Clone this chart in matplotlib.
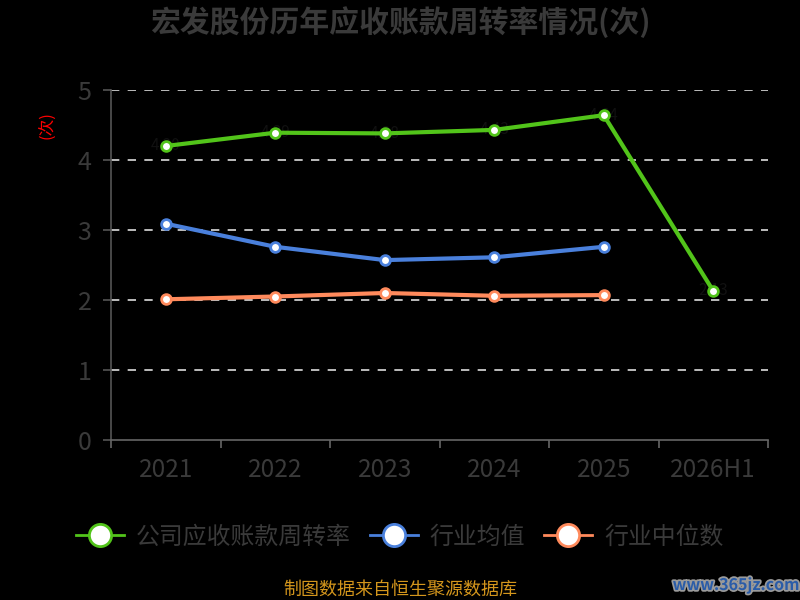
import matplotlib.pyplot as plt
import matplotlib.patheffects as pe
from matplotlib.lines import Line2D

plt.rcParams['font.family'] = ['Noto Sans CJK SC', 'DejaVu Sans']

years = ['2021', '2022', '2023', '2024', '2025', '2026H1']
company = [4.20, 4.39, 4.38, 4.43, 4.64, 2.13]
ind_mean = [3.09, 2.76, 2.57, 2.61, 2.76]
ind_median = [2.01, 2.05, 2.10, 2.06, 2.07]

green = '#52c41a'
blue = '#4a80dc'
orange = '#ff8a5c'
txt = '#3a3a3a'

fig = plt.figure(figsize=(8, 6), dpi=100, facecolor='black')
ax = fig.add_axes([111 / 800, 160 / 600, 657 / 800, 350 / 600])
ax.set_facecolor('black')

x = list(range(len(years)))
series = [(company, green, '公司应收账款周转率'),
          (ind_mean, blue, '行业均值'),
          (ind_median, orange, '行业中位数')]
for vals, col, name in series:
    ax.plot(x[:len(vals)], vals, color=col, lw=3, marker='o', ms=7,
            mfc='white', mec=col, mew=2, zorder=3)

# data labels on company line (dark text, barely visible on black)
for xi, v in zip(x, company):
    ax.text(xi, v, f'{v:.2f}', color='#111111', fontsize=11,
            ha='center', va='center', zorder=2)

ax.set_xlim(-0.5, len(years) - 0.5)
ax.set_ylim(0, 5)
ax.set_yticks([0, 1, 2, 3, 4, 5])
ax.set_xticks(x)
ax.set_xticklabels(years)
ax.set_xticks([i - 0.5 for i in range(len(years) + 1)], minor=True)
ax.tick_params(axis='x', which='major', length=0, labelsize=17.5,
               labelcolor=txt, pad=12)
ax.tick_params(axis='x', which='minor', length=6, color='#666666', width=1.2)
ax.tick_params(axis='y', length=6, color='#555555', labelsize=18,
               labelcolor=txt, pad=8, width=1.2)
for yv in [1, 2, 3, 4, 5]:
    ax.axhline(yv, color='#dddddd', lw=1.2, ls=(0, (5, 5)), zorder=1)

for s in ['top', 'right']:
    ax.spines[s].set_visible(False)
ax.spines['left'].set_color('#555555')
ax.spines['bottom'].set_color('#666666')
ax.spines['left'].set_linewidth(1.2)
ax.spines['bottom'].set_linewidth(1.2)

fig.text(48 / 800, 1 - 125 / 600, '(次)', color='red', fontsize=12,
         rotation=90, ha='center', va='center')

fig.text(0.5, 1 - 22 / 600, '宏发股份历年应收账款周转率情况(次)', color=txt,
         fontsize=21.5, fontweight='bold', ha='center', va='center')

handles = [Line2D([0], [0], color=c, lw=2, marker='o', ms=16, mfc='white',
                  mec=c, mew=2) for _, c, _ in series]
labels = [n for _, _, n in series]
fig.legend(handles, labels, loc='center', bbox_to_anchor=(0.5, 1 - 537 / 600),
           ncol=3, frameon=False, fontsize=17.2, labelcolor=txt,
           handlelength=2.0, columnspacing=0.8, handletextpad=0.5)

fig.text(0.5, 1 - 590 / 600, '制图数据来自恒生聚源数据库', color='#d4961c',
         fontsize=13, ha='center', va='center')
fig.text(736 / 800, 1 - 585 / 600, 'www.365jz.com', color='#2a5ca8',
         fontsize=11.5, fontweight='bold', ha='center', va='center',
         path_effects=[pe.withStroke(linewidth=2.5, foreground='#9a9a9a')])

fig.savefig('out.png', dpi=100, facecolor='black')
